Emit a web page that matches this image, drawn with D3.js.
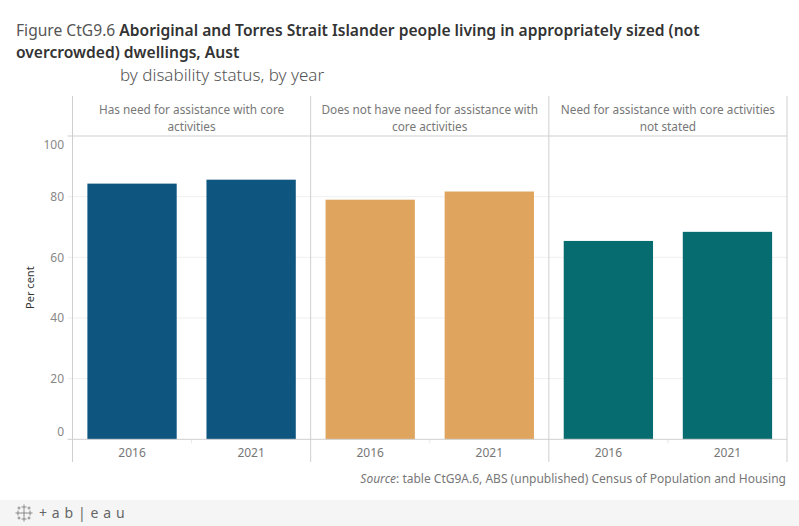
<!DOCTYPE html>
<html>
<head>
<meta charset="utf-8">
<script src="https://cdn.jsdelivr.net/npm/d3@7"></script>
<style>
  body { margin: 0; background: #fff; }
  svg { display: block; font-family: "Noto Sans", "Open Sans", sans-serif; }
</style>
</head>
<body>
<div id="chart"></div>
<script>
// data
const groups = [
  ["Has need for assistance with core", "activities"],
  ["Does not have need for assistance with", "core activities"],
  ["Need for assistance with core activities", "not stated"]
];
const years = ["2016", "2021"];
const values = [
  [84.3, 85.6],
  [79.0, 81.7],
  [65.4, 68.4]
];
const yTicks = [0, 20, 40, 60, 80, 100];
const colors = ["#0e5680", "#dfa55f", "#066c70"];

const width = 799, height = 526;
const plotLeft = 72.5, plotRight = 787, plotTop = 136, plotBottom = 439.3;

const svg = d3.select("#chart").append("svg")
  .attr("width", width)
  .attr("height", height);

// title - shrink font so first line ends where the original does
const title = svg.append("text").attr("x", 16).attr("y", 36).style("font-size", "16.5px");
title.append("tspan").attr("fill", "#555").text("Figure CtG9.6 ");
title.append("tspan").attr("fill", "#333").attr("font-weight", 600)
  .text("Aboriginal and Torres Strait Islander people living in appropriately sized (not");
const titleSize = 16.5 * Math.min(1, 684 / title.node().getComputedTextLength());
title.style("font-size", titleSize + "px");
svg.append("text").attr("x", 16).attr("y", 58).style("font-size", titleSize + "px")
  .attr("fill", "#333").attr("font-weight", 600)
  .text("overcrowded) dwellings, Aust");
svg.append("text").attr("x", 120).attr("y", 81).style("font-size", "17px")
  .attr("fill", "#555").attr("font-weight", 300)
  .text("by disability status, by year");

// scales
const panel = d3.scaleBand().domain(d3.range(groups.length)).range([plotLeft, plotRight]);
const x = d3.scaleBand().domain(years).range([0, panel.bandwidth()])
  .paddingInner(0.25).paddingOuter(0.125);
const y = d3.scaleLinear().domain([0, 100]).range([plotBottom, plotTop]);

// gridlines
svg.append("g").selectAll("line")
  .data(yTicks.filter(d => d > 0 && d < 100))
  .join("line")
  .attr("x1", plotLeft - 5).attr("x2", plotRight)
  .attr("y1", d => y(d)).attr("y2", d => y(d))
  .attr("stroke", "#efefef");

// y axis labels (tableau nudges first / last inside)
svg.append("g").selectAll("text")
  .data(yTicks)
  .join("text")
  .attr("x", 64)
  .attr("y", d => d === 0 ? y(d) - 8 : d === 100 ? y(d) + 9 : y(d))
  .attr("dy", "0.35em")
  .attr("text-anchor", "end")
  .attr("fill", "#888")
  .style("font-size", "12px")
  .text(d => d);

svg.append("text")
  .attr("transform", `translate(34,${(plotTop + plotBottom) / 2}) rotate(-90)`)
  .attr("text-anchor", "middle")
  .attr("fill", "#333")
  .style("font-size", "11px")
  .text("Per cent");

// bars
const g = svg.append("g").selectAll("g")
  .data(groups)
  .join("g")
  .attr("transform", (d, i) => `translate(${panel(i)},0)`);

g.selectAll("rect")
  .data((d, i) => values[i].map((v, j) => ({ v, year: years[j], i })))
  .join("rect")
  .attr("x", d => x(d.year))
  .attr("width", x.bandwidth())
  .attr("y", d => y(d.v))
  .attr("height", d => y(0) - y(d.v))
  .attr("fill", d => colors[d.i]);

// headers
g.each(function (d) {
  const t = d3.select(this).append("text")
    .attr("text-anchor", "middle")
    .attr("fill", "#777")
    .style("font-size", "11.8px");
  d.forEach((line, k) => {
    t.append("tspan")
      .attr("x", panel.bandwidth() / 2)
      .attr("y", 114 + k * 17)
      .text(line);
  });
});

// x labels
g.selectAll(".xl")
  .data(years)
  .join("text")
  .attr("class", "xl")
  .attr("x", d => x(d) + x.bandwidth() / 2)
  .attr("y", 457)
  .attr("text-anchor", "middle")
  .attr("fill", "#777")
  .style("font-size", "12px")
  .text(d => d);

// small separators between year cells
g.append("line")
  .attr("x1", panel.bandwidth() / 2).attr("x2", panel.bandwidth() / 2)
  .attr("y1", plotBottom).attr("y2", plotBottom + 4)
  .attr("stroke", "#e6e6e6");

// frame lines
const lineColor = "#cfcfcf";
svg.append("line").attr("x1", plotLeft - 5).attr("x2", plotRight)
  .attr("y1", plotTop).attr("y2", plotTop).attr("stroke", lineColor);
svg.append("line").attr("x1", plotLeft - 5).attr("x2", plotRight)
  .attr("y1", plotBottom).attr("y2", plotBottom).attr("stroke", lineColor);
svg.append("g").selectAll("line")
  .data(d3.range(groups.length + 1))
  .join("line")
  .attr("x1", i => i < groups.length ? panel(i) : plotRight)
  .attr("x2", i => i < groups.length ? panel(i) : plotRight)
  .attr("y1", 96).attr("y2", 462)
  .attr("stroke", lineColor);

// source
const src = svg.append("text").attr("x", 786).attr("y", 483)
  .attr("text-anchor", "end").attr("fill", "#777").style("font-size", "12px");
src.append("tspan").attr("font-style", "italic").text("Source");
src.append("tspan").text(": table CtG9A.6, ABS (unpublished) Census of Population and Housing");

// tableau footer
svg.append("rect").attr("x", 0).attr("y", 500).attr("width", width).attr("height", 26)
  .attr("fill", "#f5f5f5");
const logo = svg.append("g").attr("transform", "translate(24,513)").attr("stroke", "#888").attr("stroke-width", 1);
[[0, -6, 5], [-6, 0, 5], [6, 0, 5], [0, 6, 5], [0, 0, 7], [-5, -5, 3], [5, -5, 3], [-5, 5, 3], [5, 5, 3]]
  .forEach(([cx, cy, s]) => {
    logo.append("line").attr("x1", cx - s / 2).attr("x2", cx + s / 2).attr("y1", cy).attr("y2", cy);
    logo.append("line").attr("x1", cx).attr("x2", cx).attr("y1", cy - s / 2).attr("y2", cy + s / 2);
  });
svg.append("text").attr("x", 39).attr("y", 518)
  .attr("fill", "#666").style("font-size", "14px").attr("letter-spacing", "0.6px")
  .text("+ a b | e a u");
</script>
</body>
</html>
